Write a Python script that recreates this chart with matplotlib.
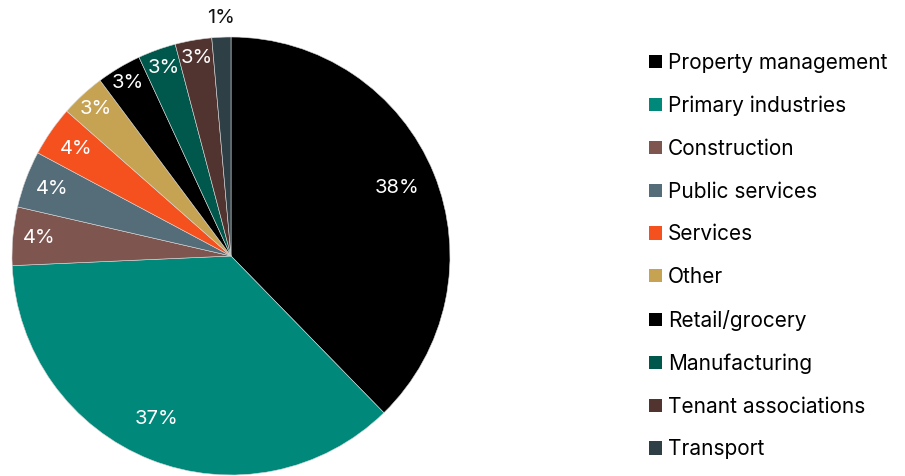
import matplotlib
matplotlib.use("Agg")
import matplotlib.pyplot as plt
import numpy as np
from matplotlib.patches import Patch

plt.rcParams["font.family"] = ["Inter", "DejaVu Sans"]

sectors = ["Property management", "Primary industries", "Construction", "Public services",
           "Services", "Other", "Retail/grocery", "Manufacturing", "Tenant associations", "Transport"]
shares = [37.7, 36.6, 4.3, 4.2, 3.7, 3.3, 3.3, 2.8, 2.7, 1.4]
labels = ["38%", "37%", "4%", "4%", "4%", "3%", "3%", "3%", "3%", "1%"]
colors = ["#000000", "#00897b", "#7f5550", "#546d79", "#f4511e", "#c6a353",
          "#000000", "#00574b", "#513430", "#2f3f46"]
label_r = [0.82, 0.82, 0.88, 0.87, 0.86, 0.91, 0.92, 0.91, 0.92, 1.09]
label_dang = [0, -3, 0, 0, 0, 0, 0, 0, 0, 0]  # small angular nudges, degrees
label_c = ["white"] * 9 + ["#111111"]

fig = plt.figure(figsize=(9.05, 4.76), dpi=100)
R = 219
ax = fig.add_axes([(231 - R) / 905, (476 - 256 - R) / 476, 2 * R / 905, 2 * R / 476])

wedges, _ = ax.pie(shares, colors=colors, startangle=90, counterclock=False, radius=1,
                   wedgeprops=dict(edgecolor="#d8d8d8", linewidth=0.4))
ax.set_aspect("auto")
ax.set_xlim(-1, 1); ax.set_ylim(-1, 1)
ax.axis("off")

for w, lab, rf, da, c in zip(wedges, labels, label_r, label_dang, label_c):
    mid = np.deg2rad((w.theta1 + w.theta2) / 2 + da)
    ax.text(rf * np.cos(mid), rf * np.sin(mid), lab, ha="center", va="center",
            fontsize=14.5, color=c, clip_on=False)

handles = [Patch(facecolor=c, edgecolor="none") for c in colors]
fig.legend(handles, sectors, loc="upper left", bbox_to_anchor=(649 / 905, 1 - 53 / 476),
           frameon=False, fontsize=15, handlelength=0.6, handleheight=0.6,
           handletextpad=0.3, labelspacing=1.09, borderaxespad=0, borderpad=0)

fig.savefig("out.png", dpi=100)
